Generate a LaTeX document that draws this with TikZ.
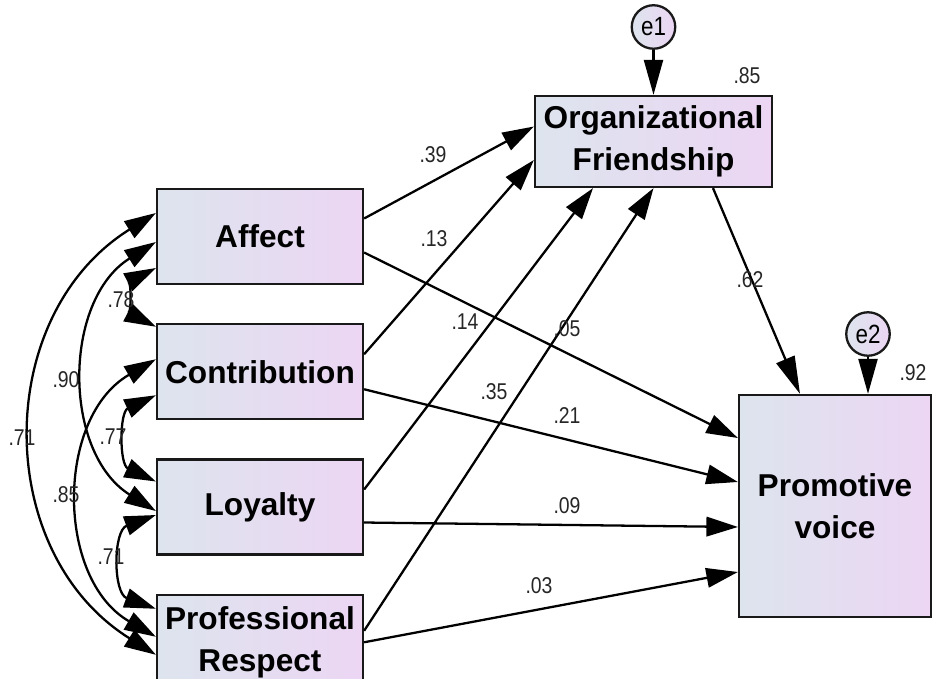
\documentclass[tikz,border=0pt]{standalone}
\usepackage{fontspec}
\setmainfont{Liberation Sans}
\newfontfamily\coeffont[FakeStretch=0.85]{Liberation Sans}
\usetikzlibrary{arrows.meta,positioning,calc}
\definecolor{boxL}{RGB}{221,228,238}
\definecolor{boxR}{RGB}{236,214,243}
\tikzstyle{obs}=[rectangle,draw=black!90,line width=1.3pt,left color=boxL,right color=boxR,
minimum width=4.12cm,minimum height=1.9cm,inner sep=0pt,align=center,
font=\bfseries\fontsize{18}{24}\selectfont]
\tikzstyle{err}=[circle,draw=black!90,line width=1.3pt,left color=boxL,right color=boxR,
minimum size=0.87cm,inner sep=0pt,font=\coeffont\fontsize{15}{17}\selectfont]
\tikzstyle{coef}=[inner sep=0pt,text=black!85,font=\coeffont\fontsize{13}{15}\selectfont]
\tikzstyle{reg}=[->]
\tikzstyle{cov}=[<->]
\tikzstyle{etip}=[-{Triangle[length=7mm,width=3.8mm]}]

\begin{document}
\begin{tikzpicture}[x=0.02cm,y=-0.02cm,>={Triangle[length=6.3mm,width=3.9mm]},line width=1.3pt]
            \useasboundingbox (0,0) rectangle (943,679);

            % PREDICTORS

            \node[obs] (affect) at (260,236.5) {Affect};
            \node[obs,below=0.76cm of affect] (contrib) {Contribution};
            \node[obs,below=0.76cm of contrib] (loyal) {Loyalty};
            \node[obs,below=0.76cm of loyal] (respect) {Professional\\Respect};

            % MEDIATOR AND OUTCOME

            \node[obs,minimum width=4.74cm,minimum height=1.82cm] (friend) at (653.5,141.5) {Organizational\\Friendship};
            \node[obs,minimum width=3.84cm,minimum height=4.44cm] (voice) at (835,506) {Promotive\\voice};
            \node[err,above=0.9cm of friend] (e1) {e1};
            \node[err] (e2) at (868,334) {e2};
            \node[coef] (r1) at (747,76) {.85};
            \node[coef] (r2) at (913,373) {.92};

            \draw[etip] (e1) -- (friend);
            \draw[etip] (e2) -- (e2 |- voice.north);

            % PATHS

            \draw[reg] ($(affect.east)+(0,-18)$) -- ($(friend.west)+(0,-15)$);
            \draw[reg] ($(contrib.east)+(0,-17.5)$) -- ($(friend.west)+(0,18.5)$);
            \draw[reg] ($(loyal.east)+(0,-17.5)$) -- ($(friend.south)+(-60.5,0)$);
            \draw[reg] ($(respect.east)+(0,-11.5)$) -- (friend.south);
            \draw[reg] ($(affect.east)+(0,16)$) -- ($(voice.west)+(0,-68)$);
            \draw[reg] ($(contrib.east)+(0,17.5)$) -- ($(voice.west)+(0,-24)$);
            \draw[reg] ($(loyal.east)+(0,15.5)$) -- ($(voice.west)+(0,21)$);
            \draw[reg] (respect.east) -- ($(voice.west)+(0,66)$);
            \draw[-{Triangle[length=7.5mm,width=3.9mm]}] ($(friend.south)+(59.5,0)$) -- ($(voice.north)+(-35,0)$);

            \node[coef] (c39) at (433,155) {.39};
            \node[coef] (c13) at (434,239) {.13};
            \node[coef] (c14) at (465,322) {.14};
            \node[coef] (c05) at (567,329) {.05};
            \node[coef] (c35) at (494,392) {.35};
            \node[coef] (c21) at (567,416) {.21};
            \node[coef] (c09) at (567,506) {.09};
            \node[coef] (c03) at (539,586) {.03};
            \node[coef] (c62) at (750,280) {.62};

            % COVARIANCES

            \draw[cov] ($(affect.west)+(0,31.5)$) to[bend right=63,looseness=1.2] ($(contrib.west)+(0,-45)$);
            \draw[cov] ($(affect.west)+(0,5.5)$) to[bend right=58,looseness=1.05] ($(loyal.west)+(0,4)$);
            \draw[cov] ($(affect.west)+(0,-23.5)$) to[bend right=58,looseness=1.12] ($(respect.west)+(0,12.5)$);
            \draw[cov] ($(contrib.west)+(0,23.5)$) to[bend right=65,looseness=1.2] ($(loyal.west)+(0,-25.5)$);
            \draw[cov] ($(contrib.west)+(0,-12.5)$) to[bend right=60,looseness=1.07] ($(respect.west)+(0,-5.5)$);
            \draw[cov] ($(loyal.west)+(0,8)$) to[bend right=70,looseness=1.25] ($(respect.west)+(0,-33.5)$);

            \node[coef] (c78) at (121,300) {.78};
            \node[coef] (c90) at (66,380) {.90};
            \node[coef] (c71a) at (22,438) {.71};
            \node[coef] (c77) at (113,437) {.77};
            \node[coef] (c85) at (66,495) {.85};
            \node[coef] (c71b) at (111,557) {.71};

        \end{tikzpicture}
\end{document}
